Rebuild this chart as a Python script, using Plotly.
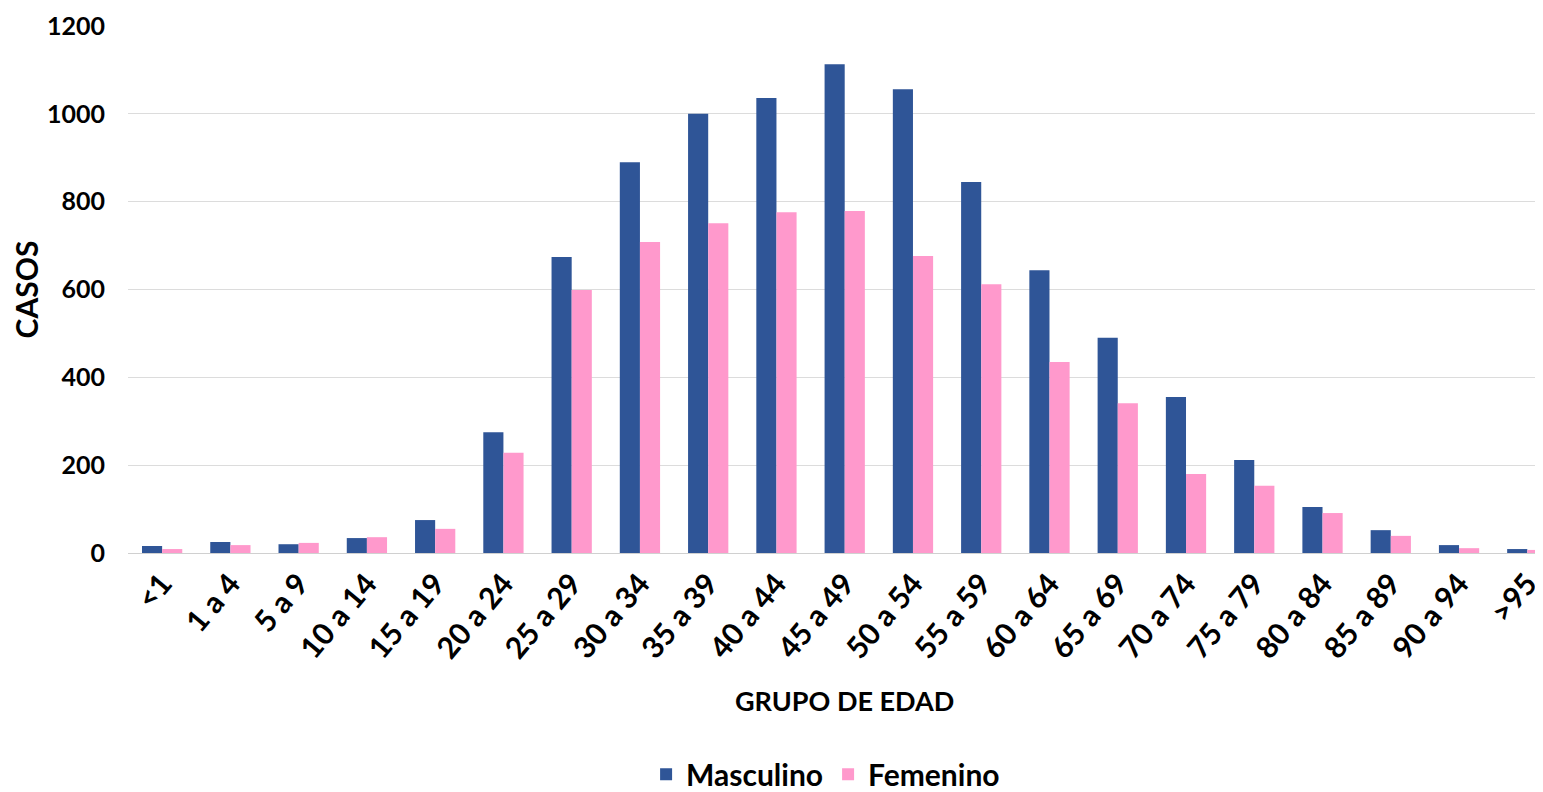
import plotly.graph_objects as go

grupos = ["<1", "1 a 4", "5 a 9", "10 a 14", "15 a 19", "20 a 24", "25 a 29", "30 a 34",
          "35 a 39", "40 a 44", "45 a 49", "50 a 54", "55 a 59", "60 a 64", "65 a 69",
          "70 a 74", "75 a 79", "80 a 84", "85 a 89", "90 a 94", ">95"]
masculino = [16, 25, 20, 34, 75, 275, 674, 890, 1000, 1036, 1113, 1056, 845, 644, 490,
             355, 212, 105, 52, 18, 9]
femenino = [9, 18, 23, 36, 55, 228, 599, 708, 751, 776, 779, 676, 612, 435, 341,
            180, 153, 91, 39, 11, 7]

FONT = "Lato"

fig = go.Figure()
fig.add_trace(go.Bar(x=grupos, y=masculino, name="Masculino",
                     marker=dict(color="#2F5597", line=dict(width=0))))
fig.add_trace(go.Bar(x=grupos, y=femenino, name="Femenino",
                     marker=dict(color="#FF99CC", line=dict(width=0))))

fig.update_layout(
    width=1535, height=784,
    paper_bgcolor="white", plot_bgcolor="white",
    margin=dict(l=120, r=0, t=18, b=239, autoexpand=False),
    barmode="group", bargap=0.41, bargroupgap=0,
    font=dict(family=FONT, color="black"),
    showlegend=True,
    legend=dict(orientation="h", x=0.493, xanchor="center",
                y=-0.42, yanchor="middle",
                font=dict(family=FONT, size=30, color="black", weight="bold"),
                itemwidth=30, traceorder="normal"),
    annotations=[dict(text="GRUPO DE EDAD", xref="paper", yref="paper",
                      x=0.5064, y=-0.279, xanchor="center", yanchor="middle",
                      showarrow=False,
                      font=dict(family=FONT, size=27, color="black", weight="bold"))],
)
fig.update_xaxes(
    type="category", tickangle=-50, automargin=False,
    range=[-0.5, 20.23],
    tickfont=dict(family=FONT, size=30, color="black", weight="bold"),
    showgrid=False, showline=True, linecolor="#d0d0d0", linewidth=1,
    ticks="", ticklen=0,
)
fig.update_yaxes(
    range=[0, 1200], dtick=200, tick0=0, automargin=False,
    tickfont=dict(family=FONT, size=25, color="black", weight="bold"),
    showgrid=True, gridcolor="#dcdcdc", gridwidth=1,
    zeroline=False, showline=False, ticks="", ticklabelstandoff=22,
    title=dict(text="CASOS", standoff=12,
               font=dict(family=FONT, size=30, color="black", weight="bold")),
)

fig.write_html("out.html")
